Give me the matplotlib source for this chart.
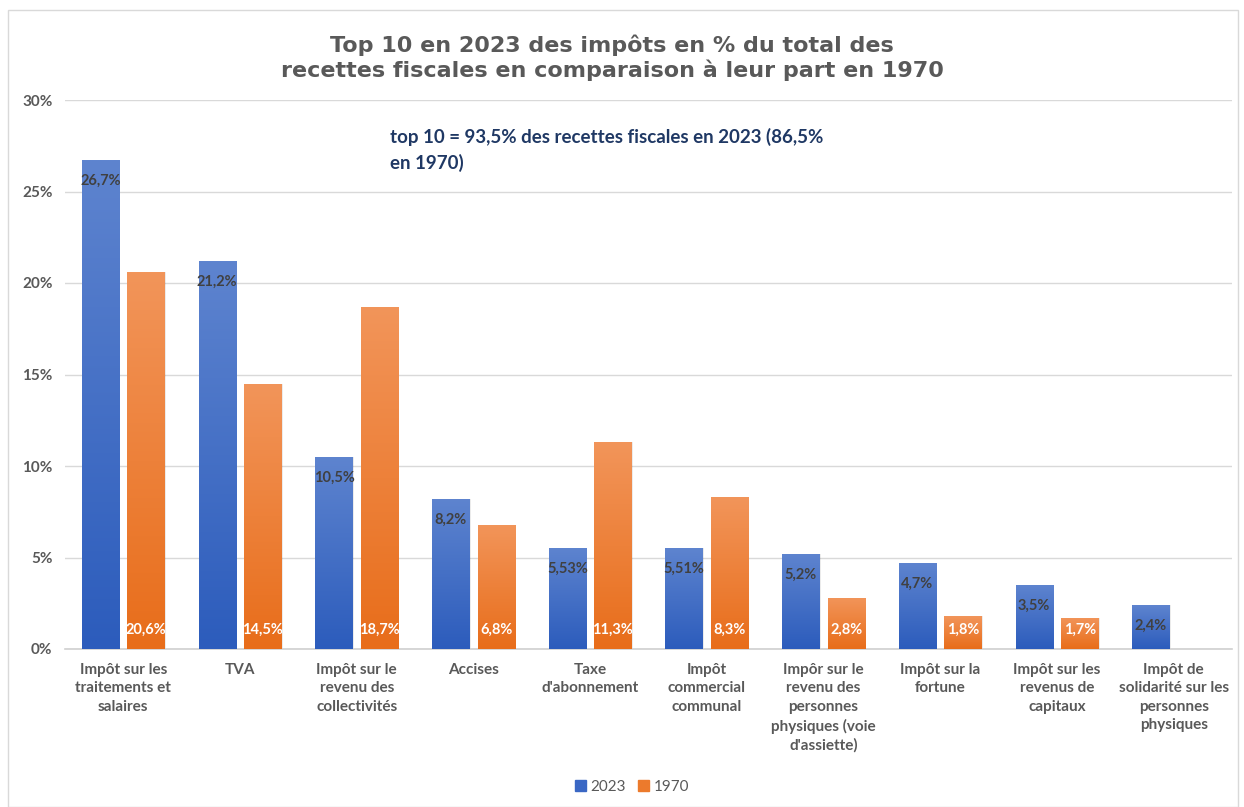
import matplotlib.pyplot as plt
import numpy as np
from matplotlib.colors import LinearSegmentedColormap
from matplotlib.patches import Rectangle

# donnees (en %)
categories = [
    "Impôt sur les\ntraitements et\nsalaires",
    "TVA",
    "Impôt sur le\nrevenu des\ncollectivités",
    "Accises",
    "Taxe\nd'abonnement",
    "Impôt\ncommercial\ncommunal",
    "Impôr sur le\nrevenu des\npersonnes\nphysiques (voie\nd'assiette)",
    "Impôt sur la\nfortune",
    "Impôt sur les\nrevenus de\ncapitaux",
    "Impôt de\nsolidarité sur les\npersonnes\nphysiques",
]
val_2023 = [26.7, 21.2, 10.5, 8.2, 5.53, 5.51, 5.2, 4.7, 3.5, 2.4]
val_1970 = [20.6, 14.5, 18.7, 6.8, 11.3, 8.3, 2.8, 1.8, 1.7, None]
yticks = [0, 5, 10, 15, 20, 25, 30]

titre = "Top 10 en 2023 des impôts en % du total des\nrecettes fiscales en comparaison à leur part en 1970"
note = "top 10 = 93,5% des recettes fiscales en 2023 (86,5%\nen 1970)"

gris = "#595959"
police = "Lato"

cmap_bleu = LinearSegmentedColormap.from_list("bleu", ["#2c5cbc", "#5e84cf"])
cmap_orange = LinearSegmentedColormap.from_list("orange", ["#e86d1a", "#f2955a"])
grad = np.linspace(0, 1, 256).reshape(-1, 1)

fig = plt.figure(figsize=(12.44, 8.07), dpi=100)
fig.patches.append(Rectangle((8/1244, 0), 1230/1244, 1 - 10/807, transform=fig.transFigure,
                             fill=False, edgecolor="#d9d9d9", linewidth=1))
ax = fig.add_axes([65/1244, 1 - 649/807, 1167/1244, 549/807])

x = np.arange(len(categories))
w = 0.32
off = 0.195


def barre_degradee(xc, h, cmap):
    b = ax.bar(xc, h, w, color="none", edgecolor="none", zorder=3)[0]
    im = ax.imshow(grad, cmap=cmap, origin="lower", aspect="auto",
                   extent=[xc - w/2, xc + w/2, 0, h], zorder=3)
    im.set_clip_path(b)
    # petite ombre
    ax.bar(xc + 0.01, h, w, color="#000000", alpha=0.08, zorder=2)


for i in range(len(categories)):
    barre_degradee(x[i] - off, val_2023[i], cmap_bleu)
    ax.annotate(f"{val_2023[i]:g}".replace(".", ",") + "%", (x[i] - off, val_2023[i]),
                xytext=(0, -15), textcoords="offset points", ha="center", va="center",
                fontsize=10.5, fontweight="bold", color="#404040", family=police, zorder=5)
    if val_1970[i] is not None:
        barre_degradee(x[i] + off, val_1970[i], cmap_orange)
        ax.annotate(f"{val_1970[i]:g}".replace(".", ",") + "%", (x[i] + off, 0),
                    xytext=(0, 14), textcoords="offset points", ha="center", va="center",
                    fontsize=10.5, fontweight="bold", color="white", family=police, zorder=5)

ax.set_xlim(-0.5, len(categories) - 0.5)
ax.set_ylim(0, 30)
ax.set_yticks(yticks)
ax.set_yticklabels([f"{t}%" for t in yticks], fontsize=11, fontweight="bold",
                   color=gris, family=police)
ax.set_xticks(x)
ax.set_xticklabels(categories, fontsize=11, fontweight="bold", color=gris,
                   family=police, linespacing=1.4, va="top")
ax.tick_params(axis="both", length=0)
ax.tick_params(axis="x", pad=10)
ax.tick_params(axis="y", pad=9)
ax.grid(axis="y", color="#d9d9d9", linewidth=1, zorder=0)
ax.set_axisbelow(True)
for s in ["top", "right", "left"]:
    ax.spines[s].set_visible(False)
ax.spines["bottom"].set_color("#d0d0d0")
ax.spines["bottom"].set_linewidth(1.2)

fig.text(612/1244, 1 - 58/807, titre, ha="center", va="center", fontsize=16,
         fontweight="bold", color=gris, family="DejaVu Sans", linespacing=1.2)
fig.text(390/1244, 1 - 150/807, note, ha="left", va="center", fontsize=13.5,
         fontweight="bold", color="#1f3864", family=police, linespacing=1.5)

# legende
h1 = Rectangle((0, 0), 1, 1, color="#3a67c4")
h2 = Rectangle((0, 0), 1, 1, color="#ec7a2c")
fig.legend([h1, h2], ["2023", "1970"], loc="center", bbox_to_anchor=(632/1244, 1 - 787/807),
           ncol=2, frameon=False, handlelength=0.7, handleheight=0.7, handletextpad=0.3,
           columnspacing=0.8, prop={"family": police, "size": 11}, labelcolor=gris)

plt.savefig("out.png", dpi=100)
